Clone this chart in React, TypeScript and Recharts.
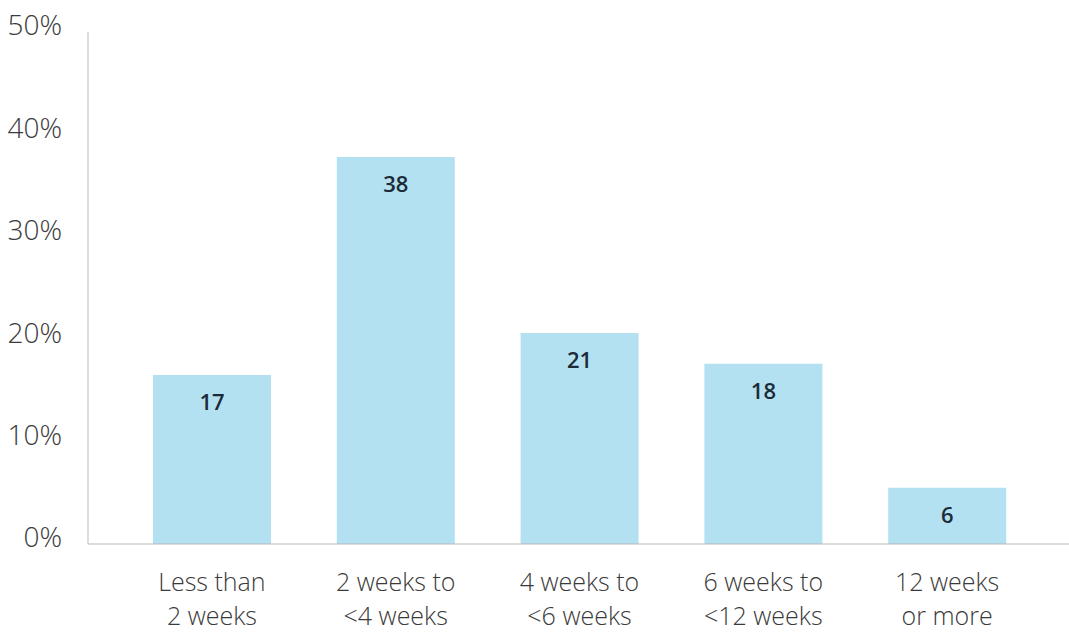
import React from "react";
import { BarChart, Bar, XAxis, YAxis, LabelList } from "recharts";

const categories = [
  ["Less than", "2 weeks"],
  ["2 weeks to", "<4 weeks"],
  ["4 weeks to", "<6 weeks"],
  ["6 weeks to", "<12 weeks"],
  ["12 weeks", "or more"],
];
const shares = [16.5, 37.8, 20.6, 17.6, 5.5];
const shareLabels = ["17", "38", "21", "18", "6"];
const yTicks = [0, 10, 20, 30, 40, 50];

const data = categories.map((c, i) => ({
  key: c.join(" "),
  lines: c,
  value: shares[i],
  label: shareLabels[i],
}));

const FONT = "'Open Sans', Lato, sans-serif";

function XTick({ x, y, payload }: any) {
  const row = data.find((d) => d.key === payload.value);
  const lines = row ? row.lines : [payload.value];
  return (
    <text
      x={x}
      y={y}
      textAnchor="middle"
      fontFamily={FONT}
      fontWeight={300}
      fontSize={25}
      fill="#3a3a3a"
    >
      {lines.map((l: string, i: number) => (
        <tspan key={i} x={x} dy={i === 0 ? 39 : 34}>
          {l}
        </tspan>
      ))}
    </text>
  );
}

function YTick({ y, payload }: any) {
  return (
    <text
      x={62}
      y={y - 4}
      textAnchor="end"
      dominantBaseline="middle"
      fontFamily={FONT}
      fontWeight={300}
      fontSize={28}
      fill="#3a3a3a"
    >
      {payload.value}%
    </text>
  );
}

function BarValue({ x, y, width, value }: any) {
  return (
    <text
      x={x + width / 2}
      y={y + 29}
      textAnchor="middle"
      dominantBaseline="middle"
      fontFamily={FONT}
      fontWeight={600}
      fontSize={22}
      fill="#1c2b36"
    >
      {value}
    </text>
  );
}

export default function App() {
  return (
    <div style={{ position: "absolute", left: 0, top: 0, background: "#fff" }}>
      <BarChart
        width={1069}
        height={632}
        data={data}
        margin={{ top: 32, right: 0, left: 0, bottom: 0 }}
      >
        <XAxis
          dataKey="key"
          tick={<XTick />}
          tickLine={false}
          axisLine={{ stroke: "#b8b8b8", strokeWidth: 1.2 }}
          padding={{ left: 32, right: 30 }}
          interval={0}
          height={88}
        />
        <YAxis
          domain={[0, 50]}
          ticks={yTicks}
          tick={<YTick />}
          tickLine={false}
          axisLine={{ stroke: "#c8c8c8", strokeWidth: 1.2 }}
          width={88}
        />
        <Bar dataKey="value" fill="#b3e1f2" barSize={118} isAnimationActive={false}>
          <LabelList dataKey="label" content={<BarValue />} />
        </Bar>
      </BarChart>
    </div>
  );
}
